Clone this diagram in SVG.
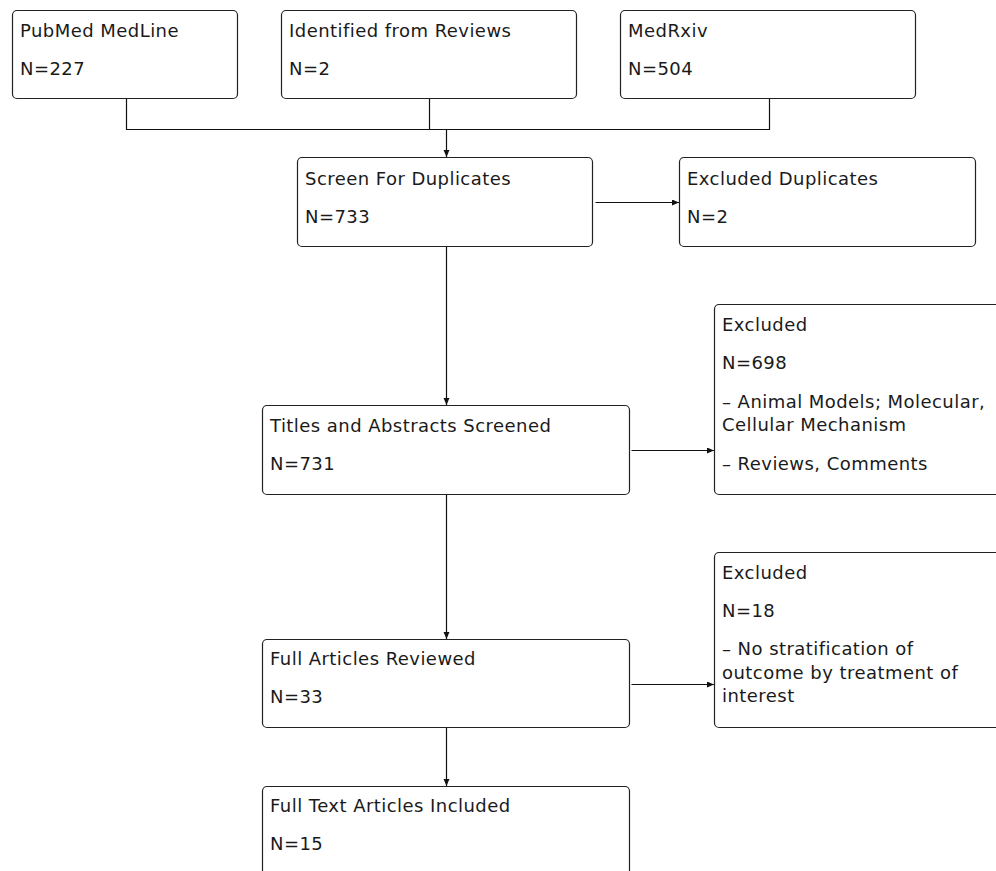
<svg xmlns="http://www.w3.org/2000/svg" width="996" height="871" viewBox="0 0 996 871">
<style>
.box{fill:#fff;stroke:#222;stroke-width:1.2}
.t{font-family:"DejaVu Sans","Liberation Sans",sans-serif;font-size:18px;letter-spacing:0.45px;fill:#1a1a1a}
.c{fill:none;stroke:#111;stroke-width:1.2}
</style>
<defs>
<marker id="ah" markerUnits="userSpaceOnUse" markerWidth="8" markerHeight="7" refX="7" refY="3" orient="auto">
<path d="M0,0 L7,3 L0,6 z" fill="#111"/>
</marker>
</defs>
<rect width="996" height="871" fill="#fff"/>
<g id="connectors">
<path class="c" d="M126.5,99 V129.5 H769.5 V99"/>
<path class="c" d="M429.5,99 V129.5"/>
<path class="c" d="M446.5,129.5 V157" marker-end="url(#ah)"/>
<path class="c" d="M595.5,202.5 H679" marker-end="url(#ah)"/>
<path class="c" d="M446.5,247 V405" marker-end="url(#ah)"/>
<path class="c" d="M631.5,450.5 H714" marker-end="url(#ah)"/>
<path class="c" d="M446.5,495 V639" marker-end="url(#ah)"/>
<path class="c" d="M631.5,684.5 H714" marker-end="url(#ah)"/>
<path class="c" d="M446.5,728 V786" marker-end="url(#ah)"/>
</g>
<g id="pubmed">
<rect class="box" x="12.5" y="10.5" width="225" height="88" rx="4.5"/>
<text class="t" x="20" y="37">PubMed MedLine</text>
<text class="t" x="20" y="75">N=227</text>
</g>
<g id="reviews">
<rect class="box" x="281.5" y="10.5" width="295" height="88" rx="4.5"/>
<text class="t" x="289" y="37">Identified from Reviews</text>
<text class="t" x="289" y="75">N=2</text>
</g>
<g id="medrxiv">
<rect class="box" x="620.5" y="10.5" width="295" height="88" rx="4.5"/>
<text class="t" x="628" y="37">MedRxiv</text>
<text class="t" x="628" y="75">N=504</text>
</g>
<g id="screen">
<rect class="box" x="297.5" y="157.5" width="295" height="89" rx="4.5"/>
<text class="t" x="305" y="184.5">Screen For Duplicates</text>
<text class="t" x="305" y="223">N=733</text>
</g>
<g id="excluded-duplicates">
<rect class="box" x="679.5" y="157.5" width="296" height="89" rx="4.5"/>
<text class="t" x="687" y="184.5">Excluded Duplicates</text>
<text class="t" x="687" y="223">N=2</text>
</g>
<g id="titles">
<rect class="box" x="262.5" y="405.5" width="367" height="89" rx="4.5"/>
<text class="t" x="270" y="432">Titles and Abstracts Screened</text>
<text class="t" x="270" y="469.5">N=731</text>
</g>
<g id="excluded-1">
<rect class="box" x="714.5" y="304.5" width="300" height="190" rx="4.5"/>
<text class="t" x="722" y="331">Excluded</text>
<text class="t" x="722" y="369">N=698</text>
<text class="t" x="722" y="408">– Animal Models; Molecular,</text>
<text class="t" x="722" y="431">Cellular Mechanism</text>
<text class="t" x="722" y="469.5">– Reviews, Comments</text>
</g>
<g id="full-articles">
<rect class="box" x="262.5" y="639.5" width="367" height="88" rx="4.5"/>
<text class="t" x="270" y="664.5">Full Articles Reviewed</text>
<text class="t" x="270" y="702.5">N=33</text>
</g>
<g id="excluded-2">
<rect class="box" x="714.5" y="552.5" width="300" height="175" rx="4.5"/>
<text class="t" x="722" y="578.5">Excluded</text>
<text class="t" x="722" y="617">N=18</text>
<text class="t" x="722" y="655">– No stratification of</text>
<text class="t" x="722" y="678.5">outcome by treatment of</text>
<text class="t" x="722" y="702">interest</text>
</g>
<g id="full-text">
<rect class="box" x="262.5" y="786.5" width="367" height="120" rx="4.5"/>
<text class="t" x="270" y="812">Full Text Articles Included</text>
<text class="t" x="270" y="850">N=15</text>
</g>
</svg>
